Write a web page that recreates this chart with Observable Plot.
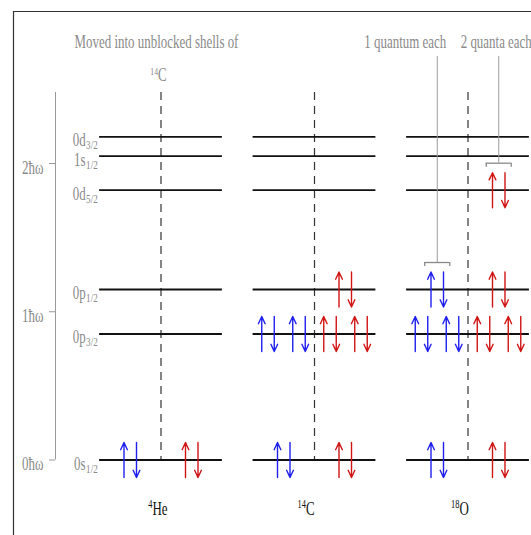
<!DOCTYPE html>
<html><head><meta charset="utf-8">
<script src="https://cdn.jsdelivr.net/npm/d3@7"></script>
<script src="https://cdn.jsdelivr.net/npm/@observablehq/plot@0.6"></script>
<style>html,body{margin:0;padding:0;background:#fff;overflow:hidden}</style>
</head><body><div id="chart"></div>
<script>
// ---- data ----
const nuclei = ["He", "C", "O"];
const massNumbers = ["4", "14", "18"];
const shellNames = ["0s", "0p", "0p", "0d", "1s", "0d"];
const shellJ = ["1/2", "3/2", "1/2", "5/2", "1/2", "3/2"];
const shellEnergy = [0, 0.85, 1.15, 1.82, 2.05, 2.18]; // in units of ħω
const oscTicks = [0, 1, 2];
const oscTickLabels = ["0ħω", "1ħω", "2ħω"];
// number of nucleon pairs per shell (rows: nuclei, cols: shells)
const protonPairs = [[1,0,0,0,0,0],[1,2,0,0,0,0],[1,2,1,0,0,0]];
const neutronPairs = [[1,0,0,0,0,0],[1,2,1,0,0,0],[1,2,1,1,0,0]];
const titleLine1 = "Moved into unblocked shells of";
const titleNucleus = "C";
const titleMass = "14";
const annotLabels = ["1 quantum each", "2 quanta each"];
const annotNucleus = [2, 2];
const annotShell = [2, 3];
const annotSide = [-1, 1]; // -1 protons, +1 neutrons

// ---- layout ----
const X0 = 160.5, DX = 153.5, Y0 = 459.5, DY = 148.25;
const px = v => v / DX, py = v => v / DY;
const ax = p => (p - X0) / DX, ay = p => (Y0 - p) / DY;
const HALF = 0.4;
const TOP = ay(92);
const FONT = "Liberation Serif";
const GRAY = "#8a8a8a";
const SX = 0.7;

const shellIdx = shellEnergy.map((_, i) => i);
const levels = [];
nuclei.forEach((_, n) => shellIdx.forEach(s => levels.push({n, e: shellEnergy[s]})));

const arrows = [];
nuclei.forEach((_, n) => shellIdx.forEach(s => {
  [[protonPairs[n][s], -1, "#2020ee"], [neutronPairs[n][s], 1, "#d01515"]].forEach(([count, side, color]) => {
    const centers = count === 1 ? [30.75] : count === 2 ? [46.5, 15.5] : [];
    centers.forEach(c => {
      const cx = side * c;
      const e = shellEnergy[s], h = py(17.5);
      arrows.push({x: n + px(cx - 6.25), y1: e - h, y2: e + h, color});
      arrows.push({x: n + px(cx + 6.25), y1: e + h, y2: e - h, color});
    });
  });
}));

const annots = annotLabels.map((label, i) => {
  const cx = annotNucleus[i] + annotSide[i] * px(30.75);
  const by = shellEnergy[annotShell[i]] + py(27);
  return {label, cx, by};
});

const textBase = {fontFamily: FONT, lineAnchor: "bottom"};

const marks = [
  // frame (top and left borders)
  Plot.ruleY([0], {y: ay(11), x1: ax(13), x2: ax(531), stroke: "#333", strokeWidth: 1.2}),
  Plot.ruleX([0], {x: ax(13), y1: ay(11), y2: ay(535), stroke: "#333", strokeWidth: 1.2}),
  // oscillator axis
  Plot.ruleX([0], {x: ax(55), y1: 0, y2: TOP, stroke: "#9a9a9a", strokeWidth: 1}),
  Plot.ruleY(oscTicks, {y: d => d, x1: ax(49), x2: ax(55), stroke: "#9a9a9a", strokeWidth: 1}),
  Plot.text(oscTicks, {...textBase, x: ax(43), y: d => d, text: (d, i) => oscTickLabels[i], textAnchor: "end", dy: 10, fontSize: 18.5, fill: GRAY}),
  // dashed dividers
  Plot.ruleX(nuclei, {x: (d, i) => i, y1: TOP, y2: 0, stroke: "#333", strokeWidth: 1.2, strokeDasharray: "8,6"}),
  // shell levels
  Plot.ruleY(levels, {y: "e", x1: d => d.n - HALF, x2: d => d.n + HALF, stroke: "#111", strokeWidth: 1.8}),
  // shell labels
  Plot.text(shellIdx, {...textBase, x: -HALF, y: s => shellEnergy[s], text: s => shellNames[s], textAnchor: "end", dx: -14, dy: 9.5, fontSize: 18.5, fill: GRAY}),
  Plot.text(shellIdx, {...textBase, x: -HALF, y: s => shellEnergy[s], text: s => shellJ[s], textAnchor: "start", dx: -13.5, dy: 12.5, fontSize: 13, fill: GRAY}),
  // nucleon arrows
  Plot.arrow(arrows, {x1: "x", x2: "x", y1: "y1", y2: "y2", stroke: "color", strokeWidth: 1.4, headLength: 8.5, headAngle: 50}),
  // annotation brackets
  Plot.ruleX(annots, {x: "cx", y1: "by", y2: ay(56), stroke: "#9a9a9a", strokeWidth: 1}),
  Plot.ruleY(annots, {y: "by", x1: d => d.cx - px(12.5), x2: d => d.cx + px(12.5), stroke: "#888", strokeWidth: 1.3}),
  Plot.ruleX(annots, {x: d => d.cx - px(12.5), y1: "by", y2: d => d.by - py(4), stroke: "#888", strokeWidth: 1.3}),
  Plot.ruleX(annots, {x: d => d.cx + px(12.5), y1: "by", y2: d => d.by - py(4), stroke: "#888", strokeWidth: 1.3}),
  Plot.text([annots[0]], {...textBase, x: "cx", y: ay(47), text: "label", textAnchor: "middle", dx: -32, fontSize: 18.5, fill: GRAY}),
  Plot.text([annots[1]], {...textBase, x: "cx", y: ay(47), text: "label", textAnchor: "middle", dx: -2.5, fontSize: 18.5, fill: GRAY}),
  // title
  Plot.text([titleLine1], {...textBase, x: 0, y: ay(47.5), text: d => d, textAnchor: "middle", dx: -4.5, fontSize: 18.5, fill: GRAY}),
  Plot.text([titleNucleus], {...textBase, x: 0, y: ay(80), text: d => d, textAnchor: "start", dx: -3, fontSize: 18.5, fill: GRAY}),
  Plot.text([titleMass], {...textBase, x: 0, y: ay(74.5), text: d => d, textAnchor: "end", dx: -3, fontSize: 11, fill: GRAY}),
  // nucleus labels
  Plot.text(nuclei, {...textBase, x: (d, i) => i, y: ay(514), text: d => d, textAnchor: "start", dx: -8.5, fontSize: 18.5, fill: "#111"}),
  Plot.text(massNumbers, {...textBase, x: (d, i) => i, y: ay(507), text: d => d, textAnchor: "end", dx: -8.5, fontSize: 12, fill: "#111"})
];

const svg = Plot.plot({
  width: 531, height: 535, margin: 0,
  x: {domain: [0, 1], range: [X0, X0 + DX], axis: null},
  y: {domain: [0, 1], range: [Y0, Y0 - DY], axis: null},
  style: {background: "#fff", fontFamily: FONT},
  marks
});

// condensed typography (the original figure is horizontally compressed)
svg.querySelectorAll("text").forEach(t => {
  const tr = t.getAttribute("transform");
  if (tr && tr.includes("translate")) t.setAttribute("transform", tr + ` scale(${SX},1)`);
  else {
    const x = parseFloat(t.getAttribute("x")) || 0;
    t.setAttribute("transform", `translate(${x},0) scale(${SX},1) translate(${-x},0)`);
  }
});

document.getElementById("chart").appendChild(svg);
</script></body></html>
